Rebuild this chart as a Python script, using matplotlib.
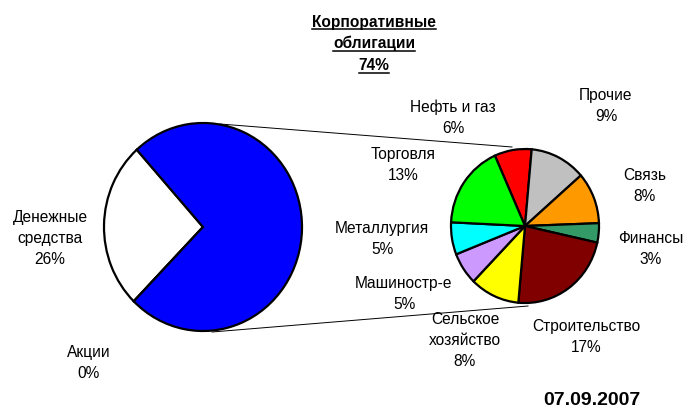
"""Pie-of-pie chart: portfolio structure with corporate bonds breakdown."""

import matplotlib

matplotlib.use("Agg")
import matplotlib.pyplot as plt
from matplotlib.lines import Line2D

plt.rcParams["font.family"] = ["Liberation Sans", "DejaVu Sans"]

# main pie (share of portfolio, %)
main_names = ["Денежные\nсредства", "Акции", "Корпоративные\nоблигации"]
main_values = [26, 0, 74]
main_colors = ["#FFFFFF", "#FFFFFF", "#0000FF"]

# corporate bonds by sector (share of portfolio, %)
sector_names = [
    "Нефть и газ", "Прочие", "Связь", "Финансы", "Строительство",
    "Сельское\nхозяйство", "Машиностр-е", "Металлургия", "Торговля",
]
sector_values = [6, 9, 8, 3, 17, 8, 5, 5, 13]
sector_colors = [
    "#FF0000", "#C0C0C0", "#FF9900", "#339966", "#800000",
    "#FFFF00", "#CC99FF", "#00FFFF", "#00FF00",
]

report_date = "07.09.2007"

# label centres in pixels (x, y from top)
main_label_pos = [(50, 238), (89, 363)]
sector_label_pos = [
    (453, 118), (606, 106), (645, 186), (651, 249), (586, 337),
    (465, 340), (404, 294), (382, 239), (403, 165),
]

W, H = 696, 411
fig = plt.figure(figsize=(W / 100, H / 100), dpi=100)

overlay = fig.add_axes([0, 0, 1, 1])
overlay.set_xlim(0, W)
overlay.set_ylim(H, 0)
overlay.axis("off")


def pie_axes(x0, y0, x1, y1):
    ax = fig.add_axes([x0 / W, 1 - y1 / H, (x1 - x0) / W, (y1 - y0) / H])
    ax.axis("off")
    return ax


edge = dict(edgecolor="black", linewidth=1.6)

ax_main = pie_axes(104, 123, 302, 331)
wedges, _ = ax_main.pie(main_values, colors=main_colors, startangle=132,
                        counterclock=True, wedgeprops=edge)
ax_main.set_xlim(-1, 1)
ax_main.set_ylim(-1, 1)
ax_main.set_aspect("auto")
for w in wedges:
    w.set_clip_on(False)

ax_sec = pie_axes(451, 149, 599, 303)
wedges, _ = ax_sec.pie(sector_values, colors=sector_colors, startangle=114,
                       counterclock=False, wedgeprops=edge)
ax_sec.set_xlim(-1, 1)
ax_sec.set_ylim(-1, 1)
ax_sec.set_aspect("auto")
for w in wedges:
    w.set_clip_on(False)

# connector lines
overlay.add_line(Line2D([220, 512], [124, 147], color="black", linewidth=0.7))
overlay.add_line(Line2D([212, 528], [332, 306], color="black", linewidth=0.7))

label_kw = dict(ha="center", va="center", fontsize=11.2, linespacing=1.5)
for name, val, (x, y) in zip(main_names[:2], main_values[:2], main_label_pos):
    overlay.text(x, y, f"{name}\n{val}%", **label_kw)
for name, val, (x, y) in zip(sector_names, sector_values, sector_label_pos):
    overlay.text(x, y, f"{name}\n{val}%", **label_kw)

# underlined bold title for the bonds slice
title_lines = main_names[2].split("\n") + [f"{main_values[2]}%"]
title_texts = []
for i, line in enumerate(title_lines):
    base = 26.5 + i * 21.7
    t = overlay.text(374, base, line, ha="center", va="baseline",
                     fontsize=11.2, fontweight="bold")
    title_texts.append((t, base))

overlay.text(592, 400, report_date, ha="center", va="center",
             fontsize=14, fontweight="bold")

fig.canvas.draw()
inv = overlay.transData.inverted()
for t, base in title_texts:
    bb = t.get_window_extent()
    x0 = inv.transform((bb.x0, 0))[0]
    x1 = inv.transform((bb.x1, 0))[0]
    overlay.add_line(Line2D([x0, x1], [base + 3, base + 3],
                            color="black", linewidth=1.1))

fig.savefig("out.png", dpi=100)
